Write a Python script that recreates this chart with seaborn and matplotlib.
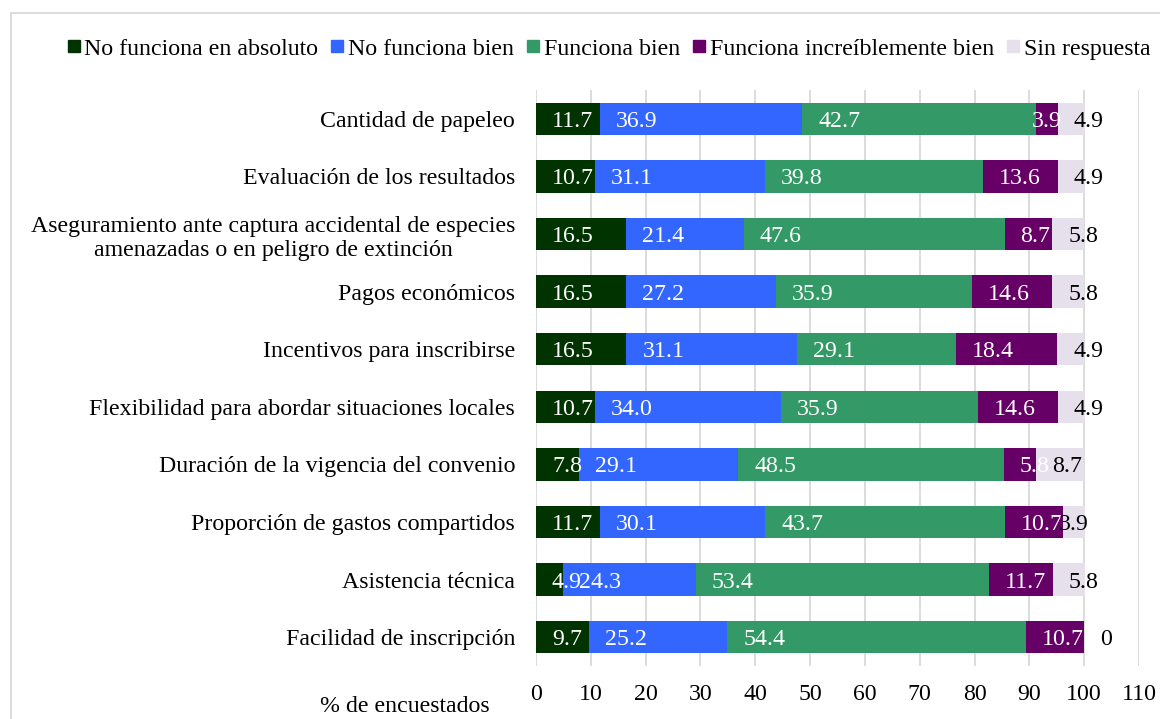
import matplotlib
matplotlib.use("Agg")
import matplotlib.pyplot as plt
from matplotlib.patches import Rectangle
from matplotlib.lines import Line2D
import seaborn as sns
import pandas as pd
import numpy as np

categories = [
    "Cantidad de papeleo",
    "Evaluación de los resultados",
    "Aseguramiento ante captura accidental de especies\namenazadas o en peligro de extinción",
    "Pagos económicos",
    "Incentivos para inscribirse",
    "Flexibilidad para abordar situaciones locales",
    "Duración de la vigencia del convenio",
    "Proporción de gastos compartidos",
    "Asistencia técnica",
    "Facilidad de inscripción",
]
series_names = ["No funciona en absoluto", "No funciona bien", "Funciona bien",
                "Funciona increíblemente bien", "Sin respuesta"]
no_funciona_absoluto = [11.7, 10.7, 16.5, 16.5, 16.5, 10.7, 7.8, 11.7, 4.9, 9.7]
no_funciona_bien = [36.9, 31.1, 21.4, 27.2, 31.1, 34.0, 29.1, 30.1, 24.3, 25.2]
funciona_bien = [42.7, 39.8, 47.6, 35.9, 29.1, 35.9, 48.5, 43.7, 53.4, 54.4]
funciona_increible = [3.9, 13.6, 8.7, 14.6, 18.4, 14.6, 5.8, 10.7, 11.7, 10.7]
sin_respuesta = [4.9, 4.9, 5.8, 5.8, 4.9, 4.9, 8.7, 3.9, 5.8, 0]
x_ticks = [0, 10, 20, 30, 40, 50, 60, 70, 80, 90, 100, 110]
x_label = "% de encuestados"

colors = ["#003300", "#3366FF", "#339966", "#660066", "#E6E0EC"]
label_colors = ["white", "white", "white", "white", "black"]

sns.set_theme(style="white")
plt.rcParams["font.family"] = ["Liberation Serif", "DejaVu Serif"]
FS = 17.2

series = [no_funciona_absoluto, no_funciona_bien, funciona_bien,
          funciona_increible, sin_respuesta]
vals = np.array(series, dtype=float)
cum = np.cumsum(vals, axis=0)
lefts = cum - vals

fig = plt.figure(figsize=(11.6, 7.19), dpi=100)
ax = fig.add_axes([536 / 1160, 1 - 666 / 719, (1139 - 536) / 1160, (666 - 90) / 719])

# stacked bars: draw cumulative totals from last to first
for i in range(len(series) - 1, -1, -1):
    df = pd.DataFrame({"cat": categories, "val": cum[i]})
    sns.barplot(data=df, x="val", y="cat", orient="h", color=colors[i],
                width=0.56, ax=ax, saturation=1, linewidth=0, zorder=3)

ax.set_xlim(0, 110)
ax.set_xticks(x_ticks)
ax.set_xlabel("")
ax.set_ylabel("")
for s in ax.spines.values():
    s.set_visible(False)
ax.grid(axis="x", color="#D9D9D9", linewidth=1.3, zorder=0)
ax.grid(axis="y", visible=False)
ax.set_axisbelow(True)
ax.tick_params(axis="x", length=0, pad=13, labelsize=FS, labelcolor="black")
ax.tick_params(axis="y", length=0, pad=15, labelsize=FS, labelcolor="black")
for t in ax.get_yticklabels():
    t.set_multialignment("center")

# data labels
for i in range(len(series)):
    for j in range(len(categories)):
        v = vals[i, j]
        txt = "0" if v == 0 else f"{v:.1f}"
        if 0 < v < 4.5:
            x, ha = lefts[i, j] + v / 2, "center"
        else:
            x, ha = lefts[i, j] + 2.9, "left"
        ax.text(x, j, txt, ha=ha, va="center_baseline", color=label_colors[i],
                fontsize=FS, zorder=5)

# legend
handles = [Line2D([0], [0], marker="s", linestyle="none", markersize=8,
                  markerfacecolor=c, markeredgecolor=c) for c in colors]
fig.legend(handles, series_names, loc="center", ncol=5,
           bbox_to_anchor=(608 / 1160, 1 - 49 / 719), frameon=False,
           fontsize=FS, handletextpad=0.1, columnspacing=0.45,
           handlelength=0.7, borderaxespad=0, labelcolor="black")

fig.text(405 / 1160, 1 - 707 / 719, x_label, ha="center", va="center",
         fontsize=FS, color="black")

# outer chart border (left & top visible)
fig.patches.append(Rectangle((11 / 1160, -0.1), 1.2, 1 - 13 / 719 + 0.1,
                             transform=fig.transFigure, fill=False,
                             edgecolor="#D9D9D9", linewidth=1.3))

fig.savefig("out.png", dpi=100, facecolor="white")
